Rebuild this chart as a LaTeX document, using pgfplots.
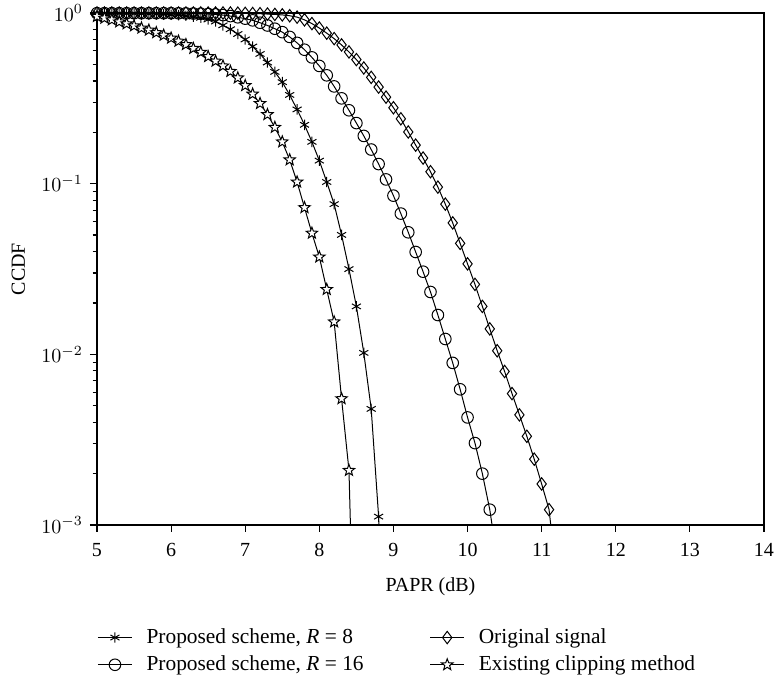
\documentclass[border=0pt]{standalone}
\usepackage{fontspec}
\setmainfont{Liberation Serif}
\usepackage{pgfplots}
\pgfplotsset{compat=1.18}
\usetikzlibrary{plotmarks}

\pgfdeclareplotmark{pentagram}{%
  \pgfpathmoveto{\pgfpointpolar{90}{\pgfplotmarksize}}%
  \pgfpathlineto{\pgfpointpolar{126}{0.42\pgfplotmarksize}}%
  \pgfpathlineto{\pgfpointpolar{162}{\pgfplotmarksize}}%
  \pgfpathlineto{\pgfpointpolar{198}{0.42\pgfplotmarksize}}%
  \pgfpathlineto{\pgfpointpolar{234}{\pgfplotmarksize}}%
  \pgfpathlineto{\pgfpointpolar{270}{0.42\pgfplotmarksize}}%
  \pgfpathlineto{\pgfpointpolar{306}{\pgfplotmarksize}}%
  \pgfpathlineto{\pgfpointpolar{342}{0.42\pgfplotmarksize}}%
  \pgfpathlineto{\pgfpointpolar{18}{\pgfplotmarksize}}%
  \pgfpathlineto{\pgfpointpolar{54}{0.42\pgfplotmarksize}}%
  \pgfpathclose
  \pgfusepathqfillstroke}

\begin{document}
\begin{tikzpicture}
\path[use as bounding box] (-48.5pt,-80.5pt) rectangle (340pt,262.5pt);
\begin{axis}[
 scale only axis, width=333.5pt, height=256pt,
 at={(0,0)}, anchor=south west,
 xmin=5, xmax=14, ymode=log, ymin=1e-3, ymax=1,
 xtick={5,...,14}, xticklabels={5,6,7,8,9,10,11,12,13,14},
 ytick={1e-3,1e-2,1e-1,1},
 tick align=outside, xtick pos=bottom, ytick pos=left,
 major tick length=3.5pt, minor tick length=2.2pt,
 axis line style={line width=0.7pt},
 every tick/.style={black, line width=0.6pt},
 tick label style={font=\fontsize{10}{12}\selectfont},
 xticklabel style={yshift=-2pt},
 xlabel={PAPR (dB)}, ylabel={CCDF},
 label style={font=\fontsize{10}{12}\selectfont},
 xlabel style={at={(axis description cs:0.5,0)}, anchor=center, yshift=-31pt},
 ylabel style={at={(axis description cs:-0.118,0.5)}, anchor=center},
 legend columns=2, legend cell align=left,
 legend style={at={(axis description cs:0,0)}, anchor=north west, yshift=-50pt,
   draw=none, inner sep=0pt, font=\fontsize{10.7}{13}\selectfont,
   nodes={inner ysep=1.6pt}, row sep=1.5pt,
   /tikz/every odd column/.append style={column sep=5pt},
   /tikz/every even column/.append style={column sep=31pt}},
 every axis plot/.append style={black, line width=0.5pt},
]
% Proposed scheme R=8
\addplot[mark=asterisk, mark size=2.6pt] coordinates {
(5.0,0.9977)(5.1,0.9977)(5.2,0.9954)(5.3,0.9954)(5.4,0.9931)(5.5,0.9931)
(5.6,0.9908)(5.7,0.9886)(5.8,0.9863)(5.9,0.9817)(6.0,0.9772)(6.1,0.9727)
(6.2,0.9638)(6.3,0.9528)(6.4,0.9376)(6.5,0.9162)(6.6,0.8913)(6.7,0.8472)
(6.8,0.8035)(6.9,0.7534)(7.0,0.6998)(7.1,0.6368)(7.2,0.5754)(7.3,0.5129)
(7.4,0.4519)(7.5,0.3936)(7.6,0.3311)(7.7,0.2723)(7.8,0.2213)(7.9,0.1758)
(8.0,0.1365)(8.1,0.1023)(8.2,0.0759)(8.3,0.0501)(8.4,0.0316)(8.5,0.0191)
(8.6,0.0102)(8.7,0.00479)(8.8,0.00112)(8.9,0.0000316)};
\addlegendentry{Proposed scheme, \textit{R} = 8}
% Original signal
\addplot[mark=diamond, mark size=3.1pt] coordinates {
(5.0,1)(5.1,1)(5.2,1)(5.3,1)(5.4,1)(5.5,1)(5.6,1)(5.7,1)(5.8,1)(5.9,1)
(6.0,1)(6.1,1)(6.2,1)(6.3,1)(6.4,1)(6.5,1)(6.6,1)(6.7,1)(6.8,1)
(6.9,0.9977)(7.0,0.9954)(7.1,0.9931)(7.2,0.9908)(7.3,0.9863)(7.4,0.9817)
(7.5,0.9750)(7.6,0.9638)(7.7,0.9462)(7.8,0.9120)(7.9,0.8670)(8.0,0.8166)
(8.1,0.7621)(8.2,0.7079)(8.3,0.6502)(8.4,0.5916)(8.5,0.5333)(8.6,0.4764)
(8.7,0.4198)(8.8,0.3681)(8.9,0.3214)(9.0,0.2786)(9.1,0.2399)(9.2,0.2009)
(9.3,0.1683)(9.4,0.1413)(9.5,0.1175)(9.6,0.0955)(9.7,0.0759)(9.8,0.0589)
(9.9,0.0447)(10.0,0.0339)(10.1,0.0257)(10.2,0.0191)(10.3,0.0141)(10.4,0.0105)
(10.5,0.00794)(10.6,0.00589)(10.7,0.00442)(10.8,0.00331)(10.9,0.00243)
(11.0,0.00174)(11.1,0.00123)(11.2,0.0005)};
\addlegendentry{Original signal}
% Proposed scheme R=16
\addplot[mark=o, mark size=2.9pt] coordinates {
(5.0,0.9977)(5.1,0.9977)(5.2,0.9977)(5.3,0.9977)(5.4,0.9977)(5.5,0.9977)
(5.6,0.9977)(5.7,0.9977)(5.8,0.9977)(5.9,0.9977)(6.0,0.9977)(6.1,0.9966)
(6.2,0.9954)(6.3,0.9931)(6.4,0.9908)(6.5,0.9863)(6.6,0.9817)(6.7,0.9727)
(6.8,0.9594)(6.9,0.9441)(7.0,0.9268)(7.1,0.9057)(7.2,0.8770)(7.3,0.8453)
(7.4,0.8091)(7.5,0.7727)(7.6,0.7244)(7.7,0.6683)(7.8,0.6095)(7.9,0.5495)
(8.0,0.4898)(8.1,0.4315)(8.2,0.3715)(8.3,0.3162)(8.4,0.2692)(8.5,0.2265)
(8.6,0.1905)(8.7,0.1585)(8.8,0.1303)(8.9,0.1059)(9.0,0.0851)(9.1,0.0668)
(9.2,0.0519)(9.3,0.0398)(9.4,0.0305)(9.5,0.0232)(9.6,0.0170)(9.7,0.0123)
(9.8,0.00891)(9.9,0.00624)(10.0,0.00427)(10.1,0.00302)(10.2,0.00200)
(10.3,0.00123)(10.4,0.00063)};
\addlegendentry{Proposed scheme, \textit{R} = 16}
% Existing clipping method
\addplot[mark=pentagram, mark size=3.0pt, mark options={fill=white}] coordinates {
(5.0,0.9550)(5.1,0.9333)(5.2,0.9120)(5.3,0.8872)(5.4,0.8650)(5.5,0.8414)
(5.6,0.8166)(5.7,0.7943)(5.8,0.7674)(5.9,0.7413)(6.0,0.7129)(6.1,0.6839)
(6.2,0.6531)(6.3,0.6209)(6.4,0.5888)(6.5,0.5559)(6.6,0.5224)(6.7,0.4898)
(6.8,0.4550)(6.9,0.4169)(7.0,0.3758)(7.1,0.3350)(7.2,0.2951)(7.3,0.2541)
(7.4,0.2138)(7.5,0.1758)(7.6,0.1380)(7.7,0.1023)(7.8,0.0724)(7.9,0.0513)
(8.0,0.0372)(8.1,0.0240)(8.2,0.0155)(8.3,0.00550)(8.4,0.00209)(8.5,0.00005)};
\addlegendentry{Existing clipping method}
\end{axis}
\end{tikzpicture}
\end{document}
